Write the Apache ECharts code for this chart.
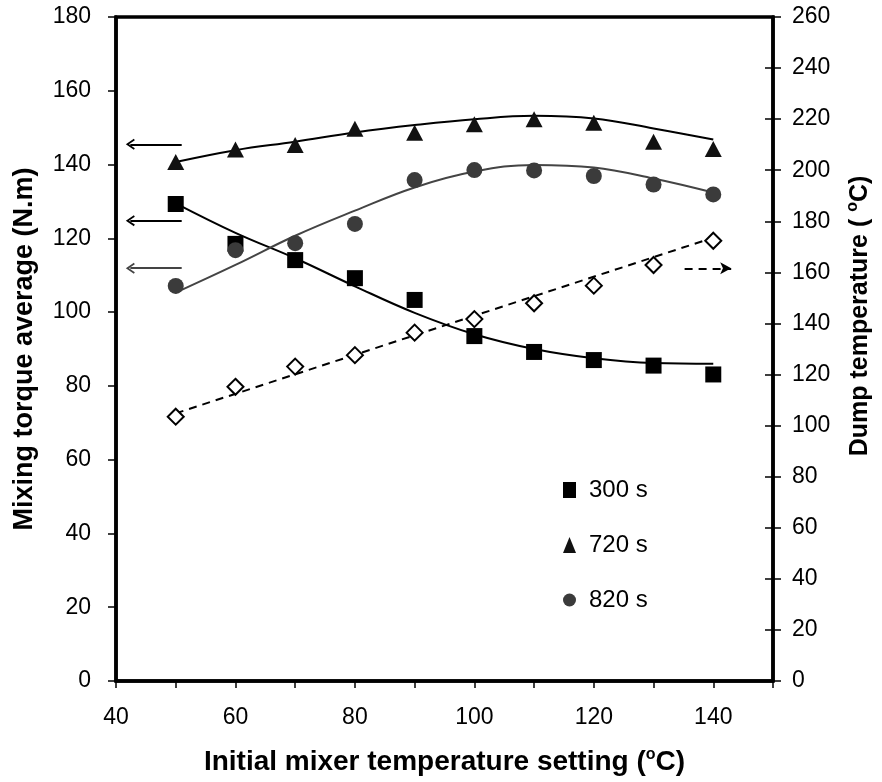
<!DOCTYPE html>
<html>
<head>
<meta charset="utf-8">
<script src="https://cdn.jsdelivr.net/npm/echarts@6/dist/echarts.min.js"></script>
<style>
  html, body { margin: 0; padding: 0; background: #fff; }
  #chart { width: 882px; height: 782px; }
</style>
</head>
<body>
<div id="chart"></div>
<script>
// initial mixer temperature setting (°C)
var temps = [50, 60, 70, 80, 90, 100, 110, 120, 130, 140];

// mixing torque average (N.m), left axis
var torque300 = [129.3, 118.5, 114.1, 109.2, 103.3, 93.5, 89.2, 87.0, 85.5, 83.1];
var torque720 = [140.7, 144.1, 145.3, 149.7, 148.6, 150.9, 152.3, 151.3, 146.2, 144.2];
var torque820 = [107.1, 116.8, 118.7, 123.9, 135.8, 138.5, 138.4, 136.9, 134.6, 131.9];

// dump temperature (°C), right axis
var dumpTemp = [103.5, 115.2, 123.1, 127.6, 136.4, 141.7, 147.9, 154.8, 162.9, 172.4];

// trend lines
var trend300 = [129.5, 121.5, 114.6, 107.0, 99.8, 94.0, 90.0, 87.5, 86.2, 86.0];
var trend720 = [140.7, 143.9, 146.2, 148.7, 150.7, 152.3, 153.2, 152.5, 149.8, 146.8];
var trend820 = [105.3, 112.8, 120.7, 127.5, 133.8, 138.1, 139.9, 139.2, 136.2, 132.4];
var dumpTrendX = [50, 140];
var dumpTrend = [104.8, 173.6];

// axis ticks
var xTicks = [40, 60, 80, 100, 120, 140];
var leftMax = 180, rightMax = 260;

// arrow annotations (which axis a curve belongs to)
var arrowLevels = { s720: 145.5, s300: 124.8, s820: 111.9, dump: 161.6 };

var FONT = '"Liberation Sans", Arial, sans-serif';

function pairs(xs, ys) {
  return xs.map(function (x, i) { return [x, ys[i]]; });
}

var chevron = 'path://M5,0 L10,8.2 L8.6,9.2 L5,3.2 L1.4,9.2 L0,8.2 Z';

function leftArrow(y, color) {
  return {
    silent: true,
    symbol: ['none', chevron],
    symbolSize: [11, 9],
    lineStyle: { color: color, width: 2, type: 'solid' },
    label: { show: false },
    emphasis: { disabled: true },
    data: [[{ coord: [51, y] }, { coord: [42.4, y] }]]
  };
}

var supStyle = { fontSize: 16, fontWeight: 'bold', fontFamily: FONT, padding: [0, 0, 14, 0] };

var chart = echarts.init(document.getElementById('chart'));

var option = {
  animation: false,
  textStyle: { fontFamily: FONT },
  grid: {
    left: 116, right: 109, top: 17, bottom: 101,
    show: true, borderColor: '#000', borderWidth: 3.5
  },
  legend: {
    orient: 'vertical',
    left: 558, top: 473,
    itemWidth: 13, itemHeight: 16,
    itemGap: 31,
    textStyle: { fontSize: 24, color: '#000', fontFamily: FONT, padding: [0, 0, 0, 8] },
    data: [
      { name: '300 s', icon: 'rect' },
      { name: '720 s', icon: 'triangle' },
      { name: '820 s', icon: 'circle' }
    ]
  },
  xAxis: {
    type: 'value',
    min: 40, max: 150, interval: 10,
    name: 'Initial mixer temperature setting ({sup|o}C)',
    nameLocation: 'middle',
    nameGap: 66,
    nameTextStyle: {
      fontSize: 28, fontWeight: 'bold', color: '#000', fontFamily: FONT,
      rich: { sup: supStyle }
    },
    axisLine: { lineStyle: { color: '#000', width: 3.5 } },
    axisTick: { length: 7, lineStyle: { color: '#000', width: 1.5 } },
    axisLabel: {
      fontSize: 23, color: '#000', margin: 25,
      formatter: function (v) { return xTicks.indexOf(v) >= 0 ? String(v) : ''; }
    },
    splitLine: { show: false }
  },
  yAxis: [
    {
      type: 'value', position: 'left',
      min: 0, max: leftMax, interval: 20,
      name: 'Mixing torque average (N.m)',
      nameLocation: 'middle', nameGap: 78,
      nameTextStyle: { fontSize: 27, fontWeight: 'bold', color: '#000', fontFamily: FONT },
      axisLine: { show: true, lineStyle: { color: '#000', width: 3.5 } },
      axisTick: { show: true, length: 8, lineStyle: { color: '#000', width: 1.5 } },
      axisLabel: { fontSize: 23, color: '#000', margin: 25 },
      splitLine: { show: false }
    },
    {
      type: 'value', position: 'right',
      min: 0, max: rightMax, interval: 20,
      axisLine: { show: true, lineStyle: { color: '#000', width: 3.5 } },
      axisTick: { show: true, length: 8, lineStyle: { color: '#000', width: 1.5 } },
      axisLabel: { fontSize: 23, color: '#000', margin: 19 },
      splitLine: { show: false }
    },
    {
      type: 'value', position: 'right',
      min: 0, max: rightMax, interval: 20,
      axisLine: { show: false },
      axisTick: { show: true, inside: true, length: 8, lineStyle: { color: '#000', width: 1.5 } },
      axisLabel: { show: false },
      splitLine: { show: false }
    }
  ],
  graphic: [
    {
      type: 'text',
      x: 860, y: 316,
      rotation: Math.PI / 2,
      style: {
        text: 'Dump temperature ( {sup|o}C)',
        fontSize: 25, fontWeight: 'bold', fill: '#000', fontFamily: FONT,
        align: 'center', verticalAlign: 'middle',
        rich: { sup: supStyle }
      }
    }
  ],
  series: [
    {
      name: 'trend 300', type: 'line', smooth: 0.4, showSymbol: false, silent: true,
      data: pairs(temps, trend300),
      lineStyle: { color: '#000', width: 2 },
      markLine: leftArrow(arrowLevels.s300, '#000'),
      z: 2
    },
    {
      name: 'trend 720', type: 'line', smooth: 0.4, showSymbol: false, silent: true,
      data: pairs(temps, trend720),
      lineStyle: { color: '#000', width: 2 },
      markLine: leftArrow(arrowLevels.s720, '#000'),
      z: 2
    },
    {
      name: 'trend 820', type: 'line', smooth: 0.4, showSymbol: false, silent: true,
      data: pairs(temps, trend820),
      lineStyle: { color: '#444', width: 2 },
      markLine: leftArrow(arrowLevels.s820, '#444'),
      z: 2
    },
    {
      name: 'dump trend', type: 'line', yAxisIndex: 1, showSymbol: false, silent: true,
      data: pairs(dumpTrendX, dumpTrend),
      lineStyle: { color: '#000', width: 2, type: [8, 6] },
      markLine: {
        silent: true,
        symbol: ['none', 'arrow'],
        symbolSize: [9, 11],
        lineStyle: { color: '#000', width: 2, type: [8, 6] },
        label: { show: false },
        emphasis: { disabled: true },
        data: [[{ coord: [135.2, arrowLevels.dump] }, { coord: [143.0, arrowLevels.dump] }]]
      },
      z: 2
    },
    {
      name: '300 s', type: 'scatter', symbol: 'rect', symbolSize: 16,
      data: pairs(temps, torque300),
      itemStyle: { color: '#000', opacity: 1 }, z: 3
    },
    {
      name: '720 s', type: 'scatter', symbol: 'triangle', symbolSize: [17, 16],
      data: pairs(temps, torque720),
      itemStyle: { color: '#111', opacity: 1 }, z: 3
    },
    {
      name: '820 s', type: 'scatter', symbol: 'circle', symbolSize: 16,
      data: pairs(temps, torque820),
      itemStyle: { color: '#3b3b3b', opacity: 1 }, z: 3
    },
    {
      name: 'Dump temperature', type: 'scatter', yAxisIndex: 1, symbol: 'diamond', symbolSize: 16,
      data: pairs(temps, dumpTemp),
      itemStyle: { color: '#fff', borderColor: '#000', borderWidth: 2, opacity: 1 }, z: 3
    }
  ]
};

chart.setOption(option);
</script>
</body>
</html>
